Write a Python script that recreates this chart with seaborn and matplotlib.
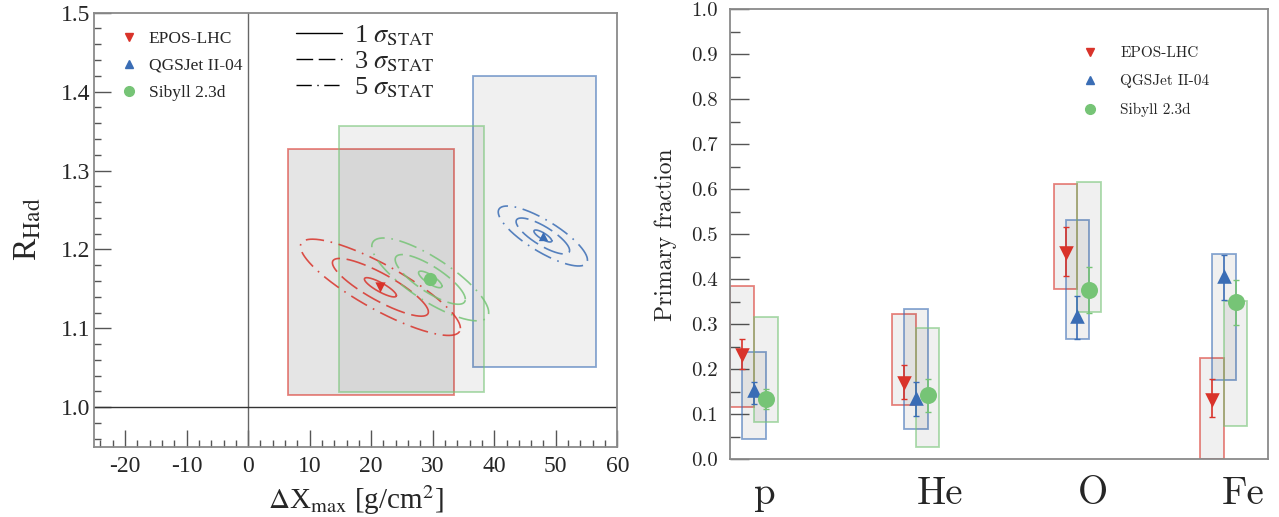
import numpy as np
import pandas as pd
import matplotlib
matplotlib.use("Agg")
import matplotlib.pyplot as plt
from matplotlib.patches import Rectangle
from matplotlib.lines import Line2D
from matplotlib.ticker import MultipleLocator, FormatStrFormatter
import seaborn as sns

# -------------------------------
# DATA
# -------------------------------
models = ["EPOS-LHC", "QGSJet II-04", "Sibyll 2.3d"]
colors = ["#d9332a", "#3a6db5", "#76c476"]
markers = ["v", "^", "o"]

# left panel: best fit, stat. widths + correlation, systematic boxes
dxmax = [21.5, 47.9, 29.6]
rhad = [1.152, 1.217, 1.162]
sig_dx = [2.6, 1.45, 1.9]
sig_r = [0.0122, 0.0076, 0.0105]
rho = [-0.85, -0.8, -0.8]
sys_dx_lo = [6.5, 36.6, 14.7]
sys_dx_hi = [33.4, 56.6, 38.3]
sys_r_lo = [1.015, 1.051, 1.019]
sys_r_hi = [1.327, 1.420, 1.356]
sigma_levels = [1, 3, 5]

# right panel: primary fractions
elements = ["p", "He", "O", "Fe"]
mass = [1, 4, 16, 56]

frac_epos = [0.232, 0.169, 0.459, 0.132]
stat_lo_epos = [0.201, 0.133, 0.407, 0.093]
stat_hi_epos = [0.267, 0.210, 0.516, 0.178]
sys_lo_epos = [0.116, 0.121, 0.379, 0.0]
sys_hi_epos = [0.386, 0.322, 0.612, 0.226]

frac_qgs = [0.153, 0.137, 0.319, 0.407]
stat_lo_qgs = [0.124, 0.096, 0.267, 0.354]
stat_hi_qgs = [0.171, 0.171, 0.363, 0.454]
sys_lo_qgs = [0.046, 0.067, 0.267, 0.176]
sys_hi_qgs = [0.238, 0.333, 0.532, 0.456]

frac_sib = [0.134, 0.142, 0.376, 0.350]
stat_lo_sib = [0.112, 0.106, 0.326, 0.299]
stat_hi_sib = [0.156, 0.178, 0.428, 0.399]
sys_lo_sib = [0.082, 0.028, 0.327, 0.074]
sys_hi_sib = [0.316, 0.292, 0.617, 0.352]

rows = []
for m, fr, slo, shi, ylo, yhi in [
    (models[0], frac_epos, stat_lo_epos, stat_hi_epos, sys_lo_epos, sys_hi_epos),
    (models[1], frac_qgs, stat_lo_qgs, stat_hi_qgs, sys_lo_qgs, sys_hi_qgs),
    (models[2], frac_sib, stat_lo_sib, stat_hi_sib, sys_lo_sib, sys_hi_sib),
]:
    for i, el in enumerate(elements):
        rows.append(dict(model=m, element=el, A=mass[i], frac=fr[i],
                         stat_lo=slo[i], stat_hi=shi[i], sys_lo=ylo[i], sys_hi=yhi[i]))
df = pd.DataFrame(rows)

# -------------------------------
# STYLE
# -------------------------------
sns.set_style("ticks")
plt.rcParams["font.family"] = ["Liberation Serif", "DejaVu Serif"]
plt.rcParams["mathtext.fontset"] = "stix"
plt.rcParams["axes.unicode_minus"] = False

fig = plt.figure(figsize=(12.79, 5.17), dpi=100)
ax1 = fig.add_axes([94.3 / 1279, 1 - 446.7 / 517, 523 / 1279, 434 / 517])
ax2 = fig.add_axes([730.3 / 1279, 1 - 459.3 / 517, 537.4 / 1279, 450 / 517])

spine_col = "#8a8a8a"
tick_col = "#555555"

# -------------------------------
# LEFT - R_Had vs dXmax
# -------------------------------
ax1.axvline(0, color="#666666", lw=1.0, zorder=1)
ax1.axhline(1.0, color="#333333", lw=1.0, zorder=1)

box_alpha = [0.10, 0.06, 0.06]
for i in range(3):
    ax1.add_patch(Rectangle((sys_dx_lo[i], sys_r_lo[i]),
                            sys_dx_hi[i] - sys_dx_lo[i], sys_r_hi[i] - sys_r_lo[i],
                            facecolor=(0, 0, 0, box_alpha[i]),
                            edgecolor=matplotlib.colors.to_rgba(colors[i], 0.6),
                            lw=1.3, zorder=2))

# stat. contours (1, 3, 5 sigma)
styles = ["-", (0, (12, 4)), (0, (11, 4, 1, 4))]
t = np.linspace(0, 2 * np.pi, 400)
for i in range(3):
    for k, ls in zip(sigma_levels, styles):
        xe = dxmax[i] + k * sig_dx[i] * np.cos(t)
        ye = rhad[i] + k * sig_r[i] * (rho[i] * np.cos(t) + np.sqrt(1 - rho[i] ** 2) * np.sin(t))
        ax1.plot(xe, ye, color=colors[i], lw=1.2, ls=ls, alpha=0.85, zorder=3)

left_ms = [55, 45, 90]
for i in range(3):
    sns.scatterplot(x=[dxmax[i]], y=[rhad[i]], ax=ax1, marker=markers[i],
                    color=colors[i], s=left_ms[i], linewidth=0, zorder=4, legend=False)

ax1.set_xlim(-25, 60)
ax1.set_ylim(0.95, 1.5)
ax1.xaxis.set_major_locator(MultipleLocator(10))
ax1.xaxis.set_minor_locator(MultipleLocator(2))
ax1.yaxis.set_major_locator(MultipleLocator(0.1))
ax1.yaxis.set_minor_locator(MultipleLocator(0.02))
ax1.yaxis.set_major_formatter(FormatStrFormatter("%.1f"))
ax1.tick_params(which="both", direction="in", color=tick_col, labelsize=17, width=1,
                labelfontfamily="Liberation Serif")
ax1.tick_params(which="major", length=12)
ax1.tick_params(which="minor", length=5)
ax1.tick_params(axis="y", pad=3)
ax1.tick_params(axis="x", pad=7)
for sp in ax1.spines.values():
    sp.set_color(spine_col)
    sp.set_linewidth(1.3)

ax1.set_xlabel(r"$\Delta$X$_{\rm max}$ [g/cm$^{2}$]", fontsize=21, labelpad=4)
ax1.set_ylabel(r"R$_{\rm Had}$", fontsize=24, labelpad=12)

h1 = [Line2D([], [], ls="none", marker=markers[i], color=colors[i], ms=6 if i < 2 else 7)
      for i in range(3)]
leg1 = ax1.legend(h1, models, loc="upper left", bbox_to_anchor=(0.049, 0.958),
                  frameon=False, fontsize=12.5, handlelength=1.0, handletextpad=0.65,
                  labelspacing=0.62, borderpad=0, borderaxespad=0)
ax1.add_artist(leg1)

h2 = [Line2D([], [], color="black", lw=1, ls=ls) for ls in styles]
lab2 = [r"%d $\sigma_{\rm STAT}$" % k for k in sigma_levels]
ax1.legend(h2, lab2, loc="upper left", bbox_to_anchor=(0.386, 0.975),
           frameon=False, fontsize=19, handlelength=1.75, handletextpad=0.45,
           labelspacing=0.05, borderpad=0, borderaxespad=0)

# -------------------------------
# RIGHT - primary fractions
# -------------------------------
off = 0.044  # decades between models
right_ms = [110, 110, 150]
for i, m in enumerate(models):
    sub = df[df.model == m]
    xs = sub.A.values * 10 ** (off * (i - 1))
    for x, lo, hi in zip(xs, sub.sys_lo, sub.sys_hi):
        ax2.add_patch(Rectangle((x * 10 ** -off, lo), x * 10 ** off - x * 10 ** -off, hi - lo,
                                facecolor=(0, 0, 0, 0.06),
                                edgecolor=matplotlib.colors.to_rgba(colors[i], 0.6),
                                lw=1.3, zorder=2))
    ax2.errorbar(xs, sub.frac, yerr=[sub.frac - sub.stat_lo, sub.stat_hi - sub.frac],
                 fmt="none", ecolor=colors[i], elinewidth=1.2, capsize=2, zorder=3)
    sns.scatterplot(x=xs, y=sub.frac.values, ax=ax2, marker=markers[i], color=colors[i],
                    s=right_ms[i], linewidth=0, zorder=4, legend=False)

ax2.set_xscale("log")
ax2.set_xlim(10 ** -0.0879, 10 ** 1.912)
ax2.set_ylim(0, 1.0)
ax2.minorticks_off()
lab_off = [0.041, 0.090, 0.057, 0.073]
ax2.set_xticks([a * 10 ** o for a, o in zip(mass, lab_off)])
ax2.set_xticklabels(elements)
ax2.tick_params(axis="x", length=0, pad=12, labelsize=28, labelfontfamily="cmr10")
ax2.yaxis.set_major_locator(MultipleLocator(0.1))
ax2.yaxis.set_minor_locator(MultipleLocator(0.05))
ax2.yaxis.set_major_formatter(FormatStrFormatter("%.1f"))
ax2.tick_params(axis="y", which="both", direction="in", color=tick_col, width=1, pad=9,
                labelsize=15, labelfontfamily="cmr10")
ax2.tick_params(axis="y", which="major", length=14)
ax2.tick_params(axis="y", which="minor", length=7)
for sp in ax2.spines.values():
    sp.set_color(spine_col)
    sp.set_linewidth(1.3)
ax2.set_ylabel("Primary fraction", fontsize=17, family="cmr10", labelpad=10)

h3 = [Line2D([], [], ls="none", marker=markers[i], color=colors[i], ms=6 if i < 2 else 7)
      for i in range(3)]
ax2.legend(h3, models, loc="upper left", bbox_to_anchor=(0.655, 0.918),
           frameon=False, prop={"family": "cmr10", "size": 11}, handlelength=1.0,
           handletextpad=1.5, labelspacing=0.95, borderpad=0, borderaxespad=0)

fig.savefig("out.png", dpi=100)
